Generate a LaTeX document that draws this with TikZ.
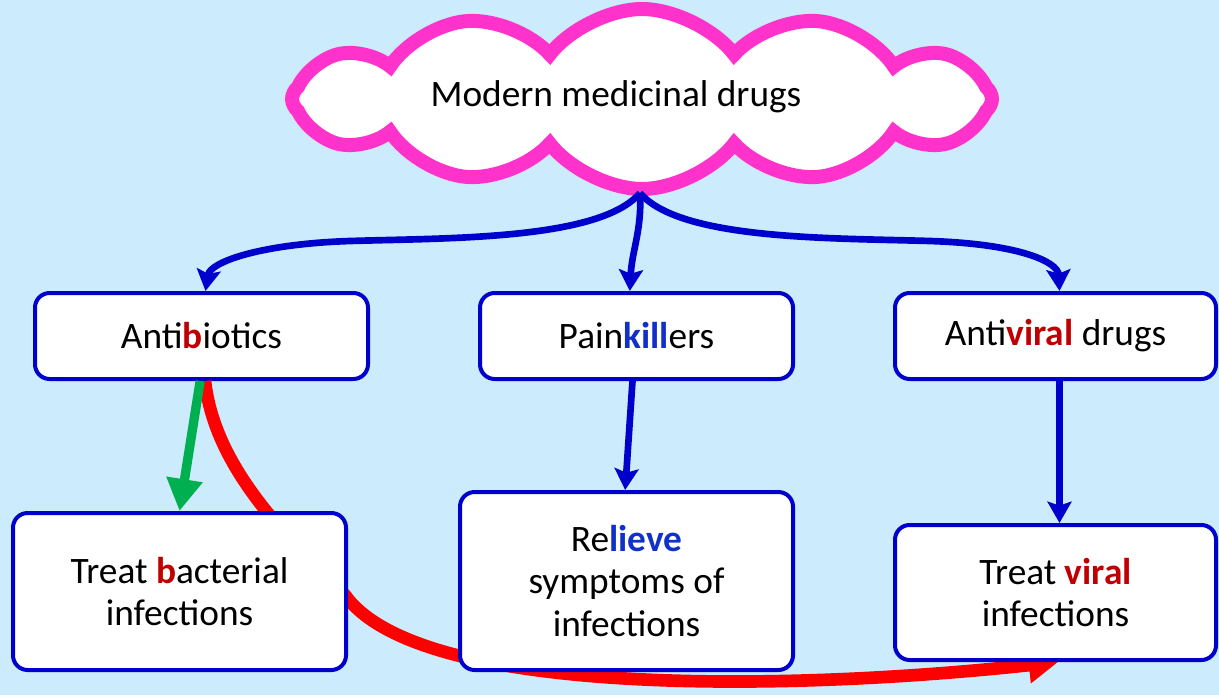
\documentclass[tikz,border=0pt]{standalone}
\usepackage{fontspec}
\setmainfont{Carlito}
\usetikzlibrary{shapes.symbols,arrows.meta}
\definecolor{bg}{HTML}{CCEBFD}
\definecolor{bline}{HTML}{0000CC}
\definecolor{pinkc}{HTML}{FF33CC}
\definecolor{redt}{HTML}{C00000}
\definecolor{bluet}{HTML}{1030C8}
\definecolor{greenc}{HTML}{00B050}
\definecolor{redc}{HTML}{FF0000}
\tikzset{
  box/.style={draw=bline, line width=3pt, fill=white, rounded corners=11pt, align=center, font=\fontsize{28}{32}\selectfont, inner sep=0pt},
  barrow/.style={draw=bline, line width=5pt, -{Stealth[width=18pt,length=16pt,inset=3pt]}},
}
\begin{document}
\begin{tikzpicture}[x=0.75pt,y=-0.75pt]
\fill[bg] (0,0) rectangle (1219,695);
\useasboundingbox (0,0) rectangle (1219,695);
% cloud
\node[cloud, cloud puffs=12, cloud puff arc=105, cloud ignores aspect, draw=pinkc, line width=10.5pt, fill=white,
  minimum width=525pt, minimum height=135pt] (cloud) at (642,99) {};
\node[font=\fontsize{28}{32}\selectfont] (ctext) at (616,97) {Modern medicinal drugs};
\coordinate (cb) at (640,193);
% boxes top row
\node[box, minimum width=249.75pt, minimum height=64.5pt] (anti) at (201.5,336) {Anti\textcolor{redt}{\textbf{b}}iotics};
\node[box, minimum width=234.75pt, minimum height=64.5pt] (pain) at (636.5,336) {Pain\textcolor{bluet}{\textbf{kill}}ers};
\node[box, minimum width=240.75pt, minimum height=64.5pt] (antiv) at (1055.5,336) {Anti\textcolor{redt}{\textbf{viral}} drugs};
% red arrow behind bacterial box
\coordinate (rs) at (205,381);
\coordinate (re) at (1058,662);
\draw[redc, line width=9.5pt, -{Triangle[width=26pt,length=22pt]}] (rs) .. controls (215,470) and (290,540) .. (345,595) .. controls (420,700) and (800,690) .. (re);
% boxes bottom row
\node[box, minimum width=249.75pt, minimum height=117.75pt] (bact) at (179.5,591.5) {Treat \textcolor{redt}{\textbf{b}}acterial\\infections};
\node[box, minimum width=249.75pt, minimum height=133.5pt] (rel) at (626.5,581) {Re\textcolor{bluet}{\textbf{lieve}}\\symptoms of\\infections};
\node[box, minimum width=240.75pt, minimum height=101.25pt] (vir) at (1055.5,592.5) {Treat \textcolor{redt}{\textbf{viral}}\\infections};
% blue arrows from cloud
\draw[barrow] (cb) .. controls (600,240) and (450,238) .. (350,241) .. controls (260,244) and (210,262) .. ([xshift=3pt]anti.north);
\draw[barrow] (cb) .. controls (642,230) and (632,250) .. ([xshift=-5pt]pain.north);
\draw[barrow] (cb) .. controls (680,240) and (830,238) .. (930,241) .. controls (1020,244) and (1058,262) .. ([xshift=3pt]antiv.north);
% second-level arrows
\draw[barrow] ([xshift=-3pt]pain.south) -- ([xshift=-1pt]rel.north);
\draw[barrow] ([xshift=3pt]antiv.south) -- ([xshift=3pt]vir.north);
\draw[greenc, line width=7pt, -{Triangle[width=26pt,length=24pt]}] ([xshift=-1pt]anti.south) -- ([xshift=0pt]bact.north);
\end{tikzpicture}
\end{document}
